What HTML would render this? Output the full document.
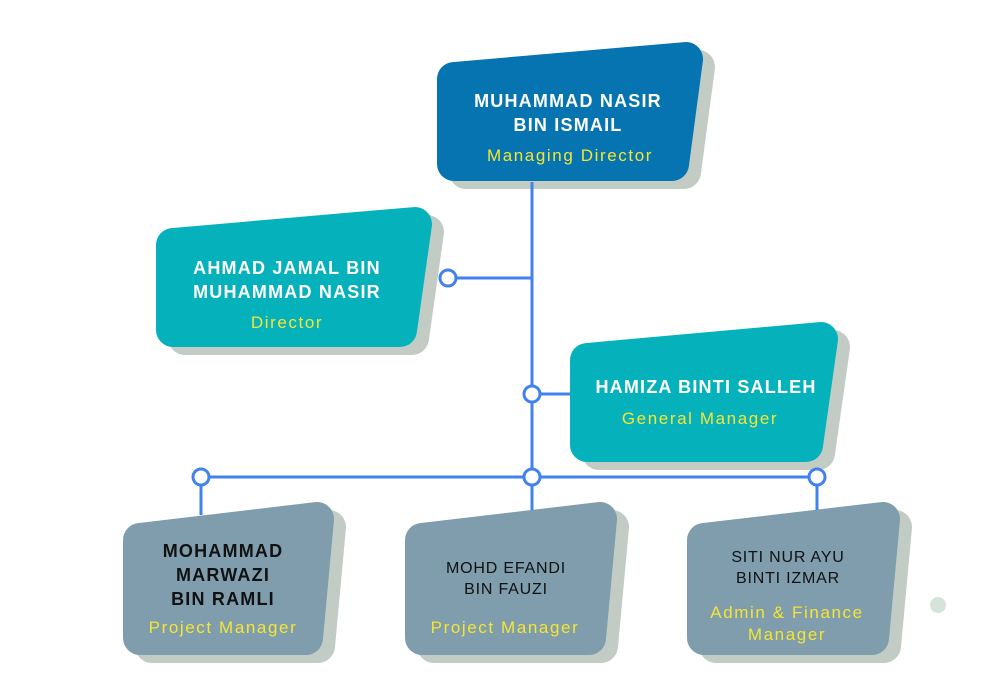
<!DOCTYPE html>
<html><head><meta charset="utf-8"><style>
body{margin:0;background:#fff}
svg text{font-family:"Liberation Sans",sans-serif;text-anchor:middle}
.n{font-weight:bold;font-size:18px;fill:#fff;letter-spacing:1.2px}
.t{font-size:17px;fill:#f5e534;letter-spacing:1.6px}
.d{font-weight:bold;fill:#111;letter-spacing:1.2px}
.s{font-weight:normal;font-size:16px;fill:#111;letter-spacing:0.8px}
</style></head><body>
<svg width="1000" height="690" viewBox="0 0 1000 690">
<g stroke-linejoin="round" stroke-width="34">
<g fill="#c2ccc4" stroke="#c2ccc4" transform="translate(12,8)">
<polygon points="454,79 686,59 672,164 454,164"/>
<polygon points="173,245 415,224 400,330 173,330"/>
<polygon points="587,360 821,339 806,445 587,445"/>
<polygon points="140,540 317,519 306,638 140,638"/>
<polygon points="422,540 600,519 589,638 422,638"/>
<polygon points="704,540 883,519 872,638 704,638"/>
</g>
<polygon fill="#0674b0" stroke="#0674b0" points="454,79 686,59 672,164 454,164"/>
<polygon fill="#05b2bc" stroke="#05b2bc" points="173,245 415,224 400,330 173,330"/>
<polygon fill="#05b2bc" stroke="#05b2bc" points="587,360 821,339 806,445 587,445"/>
<polygon fill="#7f9dad" stroke="#7f9dad" points="140,540 317,519 306,638 140,638"/>
<polygon fill="#7f9dad" stroke="#7f9dad" points="422,540 600,519 589,638 422,638"/>
<polygon fill="#7f9dad" stroke="#7f9dad" points="704,540 883,519 872,638 704,638"/>
</g>
<g stroke="#4282ec" stroke-width="3" fill="none">
<line x1="532" y1="182" x2="532" y2="510"/>
<line x1="456" y1="278" x2="532" y2="278"/>
<line x1="540" y1="394" x2="570" y2="394"/>
<line x1="209" y1="477" x2="524" y2="477"/>
<line x1="540" y1="477" x2="809" y2="477"/>
<line x1="201" y1="485" x2="201" y2="515"/>
<line x1="817" y1="485" x2="817" y2="510"/>
<circle cx="448" cy="278" r="8" fill="#fff"/>
<circle cx="532" cy="394" r="8" fill="#fff"/>
<circle cx="201" cy="477" r="8" fill="#fff"/>
<circle cx="532" cy="477" r="8" fill="#fff"/>
<circle cx="817" cy="477" r="8" fill="#fff"/>
</g>
<circle cx="938" cy="605" r="8" fill="#d5e4d8"/>
<text class="n" x="568" y="107">MUHAMMAD NASIR</text>
<text class="n" x="568" y="131">BIN ISMAIL</text>
<text class="t" x="570" y="161">Managing Director</text>
<text class="n" x="287" y="274">AHMAD JAMAL BIN</text>
<text class="n" x="287" y="298">MUHAMMAD NASIR</text>
<text class="t" x="287" y="328">Director</text>
<text class="n" x="706" y="393">HAMIZA BINTI SALLEH</text>
<text class="t" x="700" y="424">General Manager</text>
<text class="d" font-size="18" x="223" y="557">MOHAMMAD</text>
<text class="d" font-size="18" x="223" y="581">MARWAZI</text>
<text class="d" font-size="18" x="223" y="605">BIN RAMLI</text>
<text class="t" x="223" y="633">Project Manager</text>
<text class="s" x="506" y="573">MOHD EFANDI</text>
<text class="s" x="506" y="594">BIN FAUZI</text>
<text class="t" x="505" y="633">Project Manager</text>
<text class="s" x="788" y="562">SITI NUR AYU</text>
<text class="s" x="788" y="583">BINTI IZMAR</text>
<text class="t" x="787" y="618">Admin &amp; Finance</text>
<text class="t" x="787" y="640">Manager</text>
</svg>
</body></html>
